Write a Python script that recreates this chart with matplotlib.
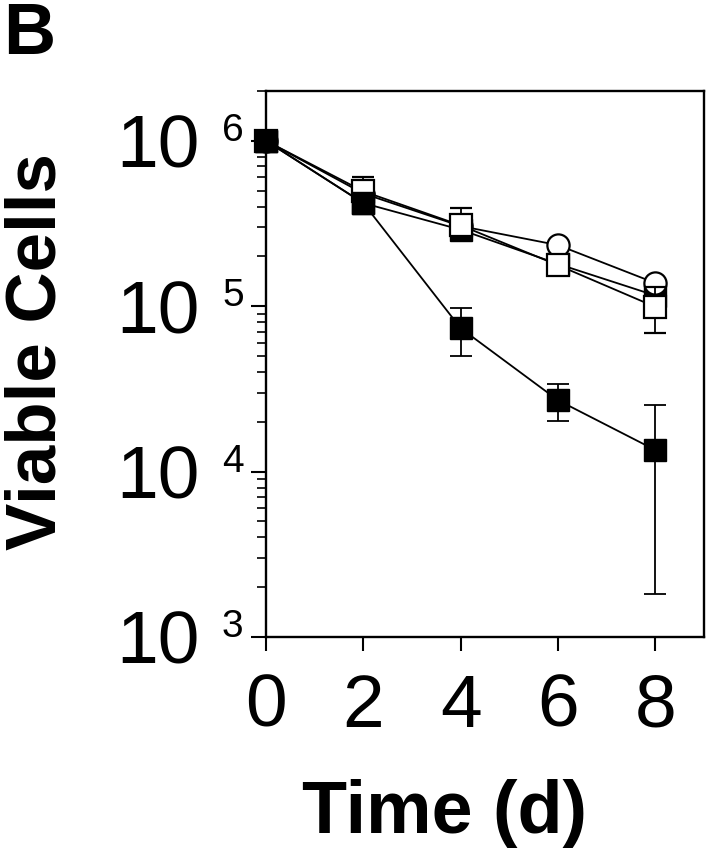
import matplotlib
matplotlib.use("Agg")
import matplotlib.pyplot as plt
import numpy as np

# ---- data ----
days = [0, 2, 4, 6, 8]
circle_vals = [1.0e6, 4.8e5, 3.05e5, 2.34e5, 1.38e5]
open_sq_vals = [1.0e6, 4.95e5, 3.08e5, 1.77e5, 9.9e4]
open_sq_lo = [1.0e6, 4.95e5, 3.08e5, 1.77e5, 6.9e4]
open_sq_hi = [1.0e6, 6.0e5, 3.9e5, 1.77e5, 1.3e5]
filled_slow_vals = [1.0e6, 4.2e5, 2.9e5, 1.8e5, 1.16e5]
filled_fast_vals = [1.0e6, 4.2e5, 7.36e4, 2.7e4, 1.35e4]
filled_fast_lo = [1.0e6, 4.2e5, 5.0e4, 2.02e4, 1.82e3]
filled_fast_hi = [1.0e6, 4.2e5, 9.8e4, 3.38e4, 2.52e4]
x_ticks = [0, 2, 4, 6, 8]
y_exps = [3, 4, 5, 6]

FONT = "Liberation Sans"
plt.rcParams['font.family'] = [FONT, 'DejaVu Sans']

fig = plt.figure(figsize=(7.14, 8.53), dpi=100)
ax = fig.add_axes([266/714, 1-638/853, 438/714, 546/853])
ax.set_yscale('log')
ax.set_xlim(0, 9)
ax.set_ylim(1e3, 2e6)

lw = 1.3
ms = 16
common = dict(color='black', lw=lw, capsize=8, elinewidth=lw, capthick=lw, clip_on=False)

# filled slow (lowest)
ax.errorbar(days, filled_slow_vals, marker='s', ms=ms, mfc='black', mec='black', zorder=3, **common)
# open circle
ax.errorbar(days, circle_vals, marker='o', ms=ms, mfc='white', mec='black', mew=1.6, zorder=4, **common)
# open square
sq_err = [np.array(open_sq_vals) - np.array(open_sq_lo), np.array(open_sq_hi) - np.array(open_sq_vals)]
ax.errorbar(days, open_sq_vals, yerr=sq_err, marker='s', ms=ms, mfc='white', mec='black', mew=1.6, zorder=5, **common)
# filled fast (top)
ff_err = [np.array(filled_fast_vals) - np.array(filled_fast_lo), np.array(filled_fast_hi) - np.array(filled_fast_vals)]
ax.errorbar(days, filled_fast_vals, yerr=ff_err, marker='s', ms=ms, mfc='black', mec='black', zorder=6, **common)

for s in ax.spines.values():
    s.set_linewidth(1.7)

ax.set_xticks(x_ticks)
ax.set_xticklabels([str(t) for t in x_ticks], fontsize=54, fontfamily=FONT)
ax.tick_params(axis='x', direction='out', length=10, width=1.5, pad=15)
ax.set_yticks([10.0**e for e in y_exps])
ax.set_yticklabels([''] * len(y_exps))
ax.tick_params(axis='y', which='major', direction='out', length=11, width=1.5)
ax.tick_params(axis='y', which='minor', direction='out', length=6.5, width=1.2)
ax.yaxis.set_minor_locator(matplotlib.ticker.LogLocator(base=10, subs=np.arange(2, 10)))
ax.yaxis.set_minor_formatter(matplotlib.ticker.NullFormatter())

pt = 72/100.0
for e in y_exps:
    ax.annotate('10', xy=(0, 10.0**e), xycoords=('axes fraction', 'data'),
                xytext=(-66*pt, -26*pt), textcoords='offset points',
                ha='right', va='baseline', fontsize=54, fontfamily=FONT, annotation_clip=False)
    ax.annotate(str(e), xy=(0, 10.0**e), xycoords=('axes fraction', 'data'),
                xytext=(-44*pt, 1*pt), textcoords='offset points',
                ha='left', va='baseline', fontsize=28, fontfamily=FONT, annotation_clip=False)

fig.text(38/714, 1-352/853, 'Viable Cells', rotation=90, ha='center', va='center',
         fontsize=51, fontweight='bold', fontfamily=FONT)
fig.text(444/714, 1-833/853, 'Time (d)', ha='center', va='baseline',
         fontsize=53, fontweight='bold', fontfamily=FONT)
fig.text(3/714, 1-54/853, 'B', ha='left', va='baseline',
         fontsize=52, fontweight='bold', fontfamily=FONT)

fig.savefig('out.png', dpi=100)
